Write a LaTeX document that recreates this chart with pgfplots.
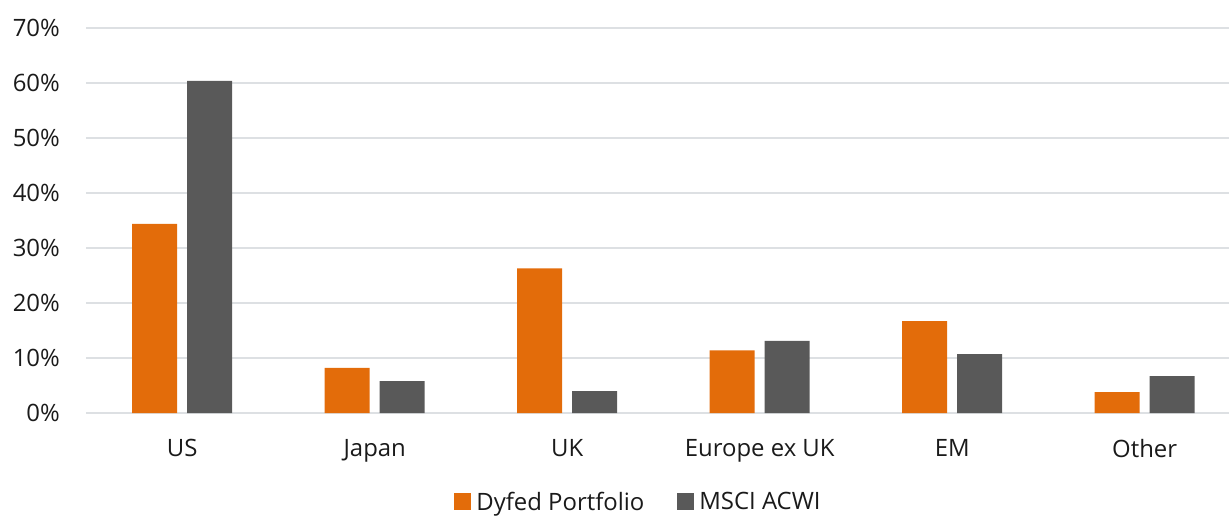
\documentclass[border=0pt]{standalone}
\usepackage{fontspec}
\setmainfont{Open Sans}
\usepackage{pgfplots}
\pgfplotsset{compat=1.18}

\definecolor{dyfed}{HTML}{E36C0A}
\definecolor{acwi}{HTML}{595959}
\definecolor{gridgray}{HTML}{DDE0E3}
\definecolor{txt}{HTML}{1A1A1A}

\begin{document}
\begin{tikzpicture}
% the plot area runs a little past the right edge, as in the reference
\useasboundingbox (-86bp,-103bp) rectangle (1143bp,413bp);
\begin{axis}[
    scale only axis,
    width=1155bp, height=385bp,
    at={(0,0)}, anchor=south west,
    ybar, bar width=45bp,
    xmin=-0.5, xmax=5.5,
    ymin=0, ymax=70,
    ytick={0,10,...,70},
    yticklabel={\pgfmathprintnumber{\tick}\%},
    xtick=data,
    xticklabels={US,Japan,UK,Europe ex UK,EM,Other},
    major tick length=0pt,
    axis line style={draw=none},
    ymajorgrids,
    grid style={gridgray, line width=1.5bp},
    font=\fontsize{24}{28}\selectfont\color{txt},
    /pgf/number format/assume math mode=true,
    yticklabel style={inner sep=0pt, xshift=-26bp},
    xticklabel style={inner sep=0pt, yshift=-26bp},
    legend columns=2,
    legend style={draw=none, at={(0.4775,-0.231)}, anchor=center,
        font=\fontsize{24}{28}\selectfont\color{txt},
        inner sep=0pt, outer sep=0pt,
        nodes={inner sep=0pt},
        /tikz/every odd column/.append style={column sep=5bp},
        /tikz/every even column/.append style={column sep=33bp}},
    legend image code/.code={\fill[#1] (0bp,-8.5bp) rectangle (17bp,8.5bp);},
]
\addplot[fill=dyfed, draw=none, bar shift=-27.5bp] coordinates {
    (0,34.4) (1,8.2) (2,26.3) (3,11.4) (4,16.7) (5,3.8)
};
\addplot[fill=acwi, draw=none, bar shift=27.5bp] coordinates {
    (0,60.4) (1,5.8) (2,4.0) (3,13.1) (4,10.7) (5,6.7)
};
\legend{Dyfed Portfolio,MSCI ACWI}
\end{axis}
\end{tikzpicture}
\end{document}
